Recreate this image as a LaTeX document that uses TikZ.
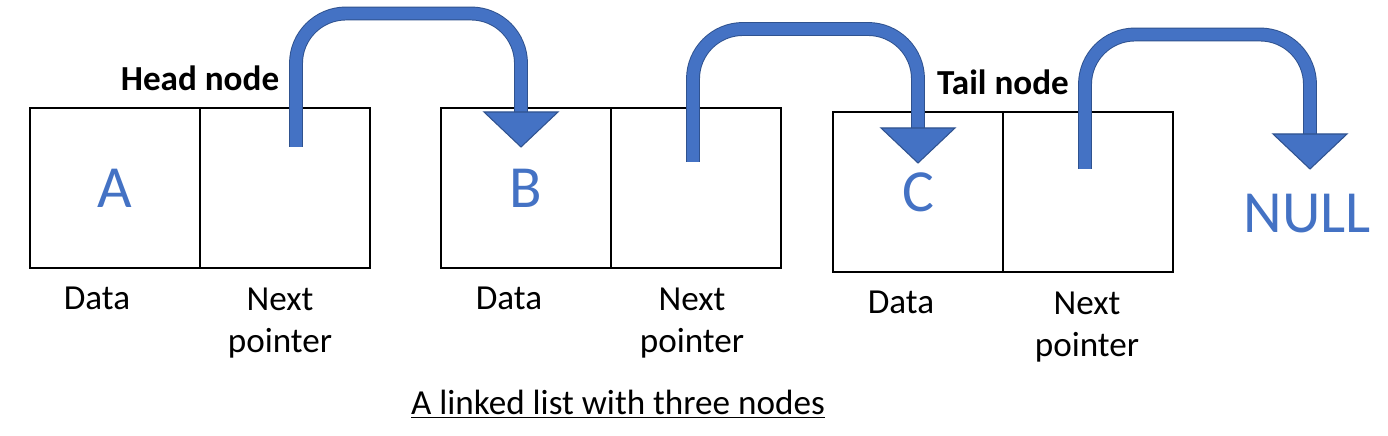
\documentclass[tikz,border=0pt]{standalone}
\usepackage{fontspec}
\setmainfont{Carlito}
\usetikzlibrary{positioning,calc}
\definecolor{listblue}{HTML}{4472C4}
\definecolor{listedge}{HTML}{2F528F}
\tikzstyle{cell}=[draw, line width=1.1pt, minimum width=3.4cm, minimum height=3.2cm, inner sep=0pt, outer sep=0pt, text=listblue, font=\fontsize{34}{40}\selectfont]
\tikzstyle{field text}=[font=\fontsize{20}{24}\selectfont, align=center]
\tikzstyle{title text}=[font=\fontsize{20}{24}\selectfont\bfseries]
\tikzstyle{pointer}=[draw=listblue, line width=6.8pt, rounded corners=1cm, preaction={draw=listedge, line width=7.9pt}]
\tikzstyle{pointer head}=[fill=listblue, draw=listedge, line width=.6pt, line join=miter]

\begin{document}
\begin{tikzpicture}[>=latex]
    \useasboundingbox (0,0) rectangle (27.76,8.72);

    % Cells
    \node[cell] (A) at (2.3,4.96) {A};
    \node[cell, right=0pt of A] (An) {};
    \node[cell] (B) at (10.52,4.96) {B};
    \node[cell, right=0pt of B] (Bn) {};
    \node[cell] (C) at (18.36,4.88) {C};
    \node[cell, right=0pt of C] (Cn) {};
    \node[text=listblue, font=\fontsize{34}{40}\selectfont] (null) at (26.14,4.44) {NULL};

    % Labels
    \node[title text] (head) at ($(A.north east)+(0,.6)$) {Head node};
    \node[title text] (tail) at ($(C.north east)+(0,.6)$) {Tail node};
    \node[field text] (Ad) at ($(A.south)+(-.36,-.6)$) {Data};
    \node[field text] (Ap) at ($(An.south)+(-.1,-1.1)$) {Next\\pointer};
    \node[field text] (Bd) at ($(B.south)+(-.34,-.6)$) {Data};
    \node[field text] (Bp) at ($(Bn.south)+(-.08,-1.1)$) {Next\\pointer};
    \node[field text] (Cd) at ($(C.south)+(-.34,-.6)$) {Data};
    \node[field text] (Cp) at ($(Cn.south)+(-.02,-1.1)$) {Next\\pointer};
    \node[field text] (caption) at (12.36,.64) {\underline{A linked list with three nodes}};

    % Pointers
    \coordinate (a1) at ($(An.north)+(.22,-.78)$);
    \coordinate (t1) at ($(B.north)+(-.1,-.78)$);
    \coordinate (a2) at ($(Bn.north)+(-.06,-1.08)$);
    \coordinate (t2) at ($(C.north)+(0,-1.02)$);
    \coordinate (a3) at ($(Cn.north)+(-.06,-1.14)$);
    \coordinate (t3) at ($(null.center)+(.06,.9)$);
    \draw[pointer] (a1) -- ++(0,2.67) -| ($(t1)+(0,.7)$);
    \filldraw[pointer head] ($(t1)+(-.74,.7)$) -- (t1) -- ($(t1)+(.74,.7)$) -- cycle;
    \draw[pointer] (a2) -- ++(0,2.66) -| ($(t2)+(0,.7)$);
    \filldraw[pointer head] ($(t2)+(-.74,.7)$) -- (t2) -- ($(t2)+(.74,.7)$) -- cycle;
    \draw[pointer] (a3) -- ++(0,2.69) -| ($(t3)+(0,.7)$);
    \filldraw[pointer head] ($(t3)+(-.74,.7)$) -- (t3) -- ($(t3)+(.74,.7)$) -- cycle;

\end{tikzpicture}
\end{document}
